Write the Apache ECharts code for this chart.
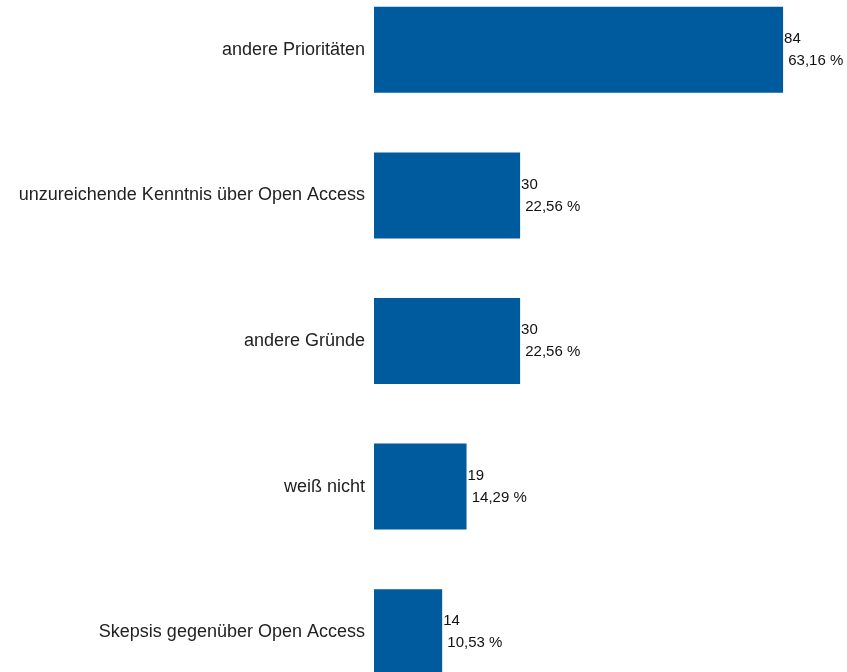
<!DOCTYPE html>
<html>
<head>
<meta charset="utf-8">
<script src="https://cdn.jsdelivr.net/npm/echarts@6/dist/echarts.min.js"></script>
<style>
  html, body { margin: 0; padding: 0; background: #fff; }
  #chart { width: 847px; height: 672px; }
</style>
</head>
<body>
<div id="chart"></div>
<script>
// Kategorien von oben nach unten
const categories = [
  "andere Prioritäten",
  "unzureichende Kenntnis über Open Access",
  "andere Gründe",
  "weiß nicht",
  "Skepsis gegenüber Open Access",
];
const counts = [84, 30, 30, 19, 14];
const percents = ["63,16 %", "22,56 %", "22,56 %", "14,29 %", "10,53 %"];

const chart = echarts.init(document.getElementById("chart"));

chart.setOption({
  animation: false,
  textStyle: { fontFamily: "Liberation Sans, Arial, sans-serif" },
  grid: {
    left: 374,
    width: 487,
    top: -23,
    height: 728,
    containLabel: false,
    outerBoundsMode: "none",
  },
  xAxis: {
    type: "value",
    min: 0,
    max: 100,
    show: false,
  },
  yAxis: {
    type: "category",
    inverse: true,
    data: categories,
    axisLine: { show: false },
    axisTick: { show: false },
    axisLabel: {
      margin: 9,
      fontSize: 18,
      color: "#222",
    },
  },
  series: [
    {
      type: "bar",
      barWidth: 86,
      data: counts,
      itemStyle: { color: "#005a9e" },
      label: {
        show: true,
        position: "right",
        distance: 1,
        fontSize: 15,
        lineHeight: 22,
        color: "#111",
        align: "left",
        formatter: (p) => p.value + "\n " + percents[p.dataIndex],
      },
    },
  ],
});
</script>
</body>
</html>
